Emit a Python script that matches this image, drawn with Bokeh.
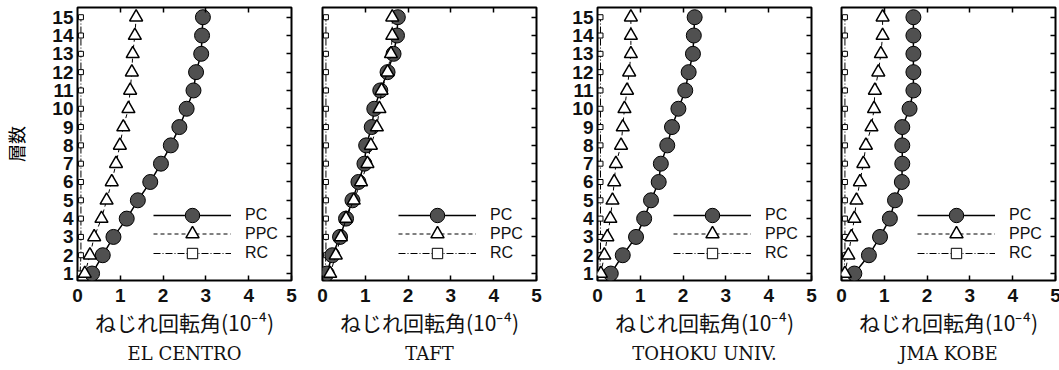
from bokeh.plotting import figure
from bokeh.layouts import row
from bokeh.models import (LinearAxis, Range1d, FixedTicker, Legend, LegendItem,
                          Title, ColumnDataSource)
from bokeh.embed import file_html
from bokeh.resources import INLINE

floors = list(range(1, 16))
x_ticks = [0, 1, 2, 3, 4, 5]
titles = ["EL CENTRO", "TAFT", "TOHOKU UNIV.", "JMA KOBE"]
x_label = "ねじれ回転角(10⁻⁴)"
y_label = "層数"
legend_labels = ["PC", "PPC", "RC"]

pc_elcentro = [0.34, 0.59, 0.84, 1.15, 1.41, 1.70, 1.95, 2.18, 2.38, 2.55, 2.71, 2.77, 2.89, 2.91, 2.93]
ppc_elcentro = [0.17, 0.29, 0.39, 0.56, 0.68, 0.80, 0.90, 0.99, 1.07, 1.19, 1.23, 1.27, 1.29, 1.34, 1.37]
rc_elcentro = [0.06, 0.08, 0.08, 0.08, 0.08, 0.08, 0.08, 0.08, 0.08, 0.08, 0.08, 0.08, 0.08, 0.08, 0.08]

pc_taft = [0.10, 0.23, 0.41, 0.55, 0.70, 0.84, 0.98, 1.02, 1.15, 1.21, 1.35, 1.52, 1.66, 1.74, 1.76]
ppc_taft = [0.18, 0.31, 0.43, 0.55, 0.73, 0.90, 1.05, 1.13, 1.27, 1.33, 1.38, 1.52, 1.60, 1.63, 1.63]
rc_taft = [0.06, 0.08, 0.08, 0.08, 0.08, 0.08, 0.08, 0.08, 0.08, 0.08, 0.08, 0.08, 0.08, 0.08, 0.08]

pc_tohoku = [0.31, 0.59, 0.90, 1.09, 1.25, 1.43, 1.48, 1.63, 1.74, 1.89, 2.05, 2.13, 2.23, 2.25, 2.27]
ppc_tohoku = [0.08, 0.16, 0.23, 0.30, 0.35, 0.39, 0.43, 0.55, 0.59, 0.63, 0.69, 0.74, 0.78, 0.78, 0.78]
rc_tohoku = [0.05, 0.07, 0.07, 0.07, 0.07, 0.07, 0.07, 0.07, 0.07, 0.07, 0.07, 0.07, 0.07, 0.07, 0.07]

pc_kobe = [0.30, 0.64, 0.90, 1.13, 1.25, 1.41, 1.42, 1.42, 1.42, 1.59, 1.68, 1.68, 1.68, 1.68, 1.68]
ppc_kobe = [0.08, 0.16, 0.23, 0.30, 0.35, 0.43, 0.51, 0.57, 0.70, 0.76, 0.78, 0.86, 0.92, 0.96, 0.96]
rc_kobe = [0.06, 0.08, 0.08, 0.08, 0.08, 0.08, 0.08, 0.08, 0.08, 0.08, 0.08, 0.08, 0.08, 0.08, 0.08]

series = [
    (pc_elcentro, ppc_elcentro, rc_elcentro),
    (pc_taft, ppc_taft, rc_taft),
    (pc_tohoku, ppc_tohoku, rc_tohoku),
    (pc_kobe, ppc_kobe, rc_kobe),
]

borders = [(73, 12), (19, 12), (49, 12), (18, 8)]
show_ylabels = [True, False, True, False]
legend_centers = [65, 46, 27]   # px above the frame bottom for each legend row
legend_glyph_h = [36, 33, 26]   # legend marker size is 0.4 x glyph height

TICK_FONT = "Liberation Sans"
JP_FONT = "Noto Sans CJK JP"
INK = "#111111"


def make_panel(i):
    pc, ppc, rc = series[i]
    left, right = borders[i]
    p = figure(frame_width=214, frame_height=273,
               x_range=Range1d(0, 5), y_range=Range1d(0.62, 15.53),
               output_backend="svg", toolbar_location=None,
               min_border_left=left, min_border_right=right,
               min_border_top=7, min_border_bottom=90,
               x_axis_location="below",
               y_axis_location="left" if show_ylabels[i] else None)
    p.grid.visible = False
    p.outline_line_color = "black"
    p.outline_line_width = 2
    p.background_fill_color = "white"
    p.border_fill_color = "white"

    # bottom axis
    xa = p.xaxis[0]
    xa.ticker = FixedTicker(ticks=x_ticks)
    xa.major_tick_in = 5
    xa.major_tick_out = 0
    xa.minor_tick_in = 0
    xa.minor_tick_out = 0
    xa.axis_line_color = None
    xa.major_tick_line_width = 1.5
    xa.major_label_text_font = TICK_FONT
    xa.major_label_text_font_size = "19px"
    xa.major_label_text_font_style = "bold"
    xa.major_label_text_color = INK
    xa.major_label_standoff = 8
    xa.axis_label = x_label
    xa.axis_label_text_font = JP_FONT
    xa.axis_label_text_font_size = "21px"
    xa.axis_label_text_font_style = "normal"
    xa.axis_label_text_color = INK
    xa.axis_label_standoff = 2

    if show_ylabels[i]:
        ya = p.yaxis[0]
        ya.ticker = FixedTicker(ticks=floors)
        ya.major_tick_in = 0
        ya.major_tick_out = 0
        ya.minor_tick_in = 0
        ya.minor_tick_out = 0
        ya.axis_line_color = None
        ya.major_label_text_font = TICK_FONT
        ya.major_label_text_font_size = "19px"
        ya.major_label_text_font_style = "bold"
        ya.major_label_text_color = INK
        ya.major_label_standoff = 4
        if i == 0:
            ya.axis_label = y_label
            ya.axis_label_text_font = JP_FONT
            ya.axis_label_text_font_size = "18px"
            ya.axis_label_text_font_style = "normal"
            ya.axis_label_text_color = "black"
            ya.axis_label_standoff = 20

    # right axis: ticks only
    ra = LinearAxis(ticker=FixedTicker(ticks=floors), major_tick_in=5, major_tick_out=0,
                    minor_tick_in=0, minor_tick_out=0, axis_line_color=None,
                    major_tick_line_width=1.5,
                    major_label_text_font_size="1px", major_label_text_alpha=0,
                    major_label_standoff=0)
    p.add_layout(ra, "right")
    # top axis: ticks only
    ta = LinearAxis(ticker=FixedTicker(ticks=x_ticks[1:-1]), major_tick_in=5, major_tick_out=0,
                    minor_tick_in=0, minor_tick_out=0, axis_line_color=None,
                    major_tick_line_width=1.5,
                    major_label_text_font_size="1px", major_label_text_alpha=0,
                    major_label_standoff=0)
    p.add_layout(ta, "above")

    src = ColumnDataSource(dict(y=floors, pc=pc, ppc=ppc, rc=rc))

    # RC
    rc_line = p.line("rc", "y", source=src, line_color="black", line_width=1, line_dash="7 2 1 2")
    rc_pts = p.scatter("rc", "y", source=src, marker="square", size=5, fill_color="white",
                       line_color="black", line_width=1)
    # PC
    pc_line = p.line("pc", "y", source=src, line_color="black", line_width=1.5)
    pc_pts = p.scatter("pc", "y", source=src, marker="circle", size=15, fill_color="#505050",
                       line_color="black", line_width=1)
    # PPC
    ppc_line = p.line("ppc", "y", source=src, line_color="black", line_width=1, line_dash="4 3")
    ppc_pts = p.scatter("ppc", "y", source=src, marker="triangle", size=13, fill_color="white",
                        line_color="black", line_width=1.5)

    rends = [[pc_line, pc_pts], [ppc_line, ppc_pts], [rc_line, rc_pts]]
    for k in range(3):
        gh = legend_glyph_h[k]
        legend = Legend(items=[LegendItem(label=legend_labels[k], renderers=rends[k])],
                        location=(76, legend_centers[k] - gh // 2),
                        border_line_color=None, background_fill_alpha=0,
                        padding=0, margin=0, spacing=0, glyph_width=78,
                        glyph_height=gh, label_height=15,
                        label_standoff=14, label_text_font=TICK_FONT,
                        label_text_font_size="16px", label_text_color=INK)
        p.add_layout(legend, "center")

    t = Title(text=titles[i], align="center", text_font="DejaVu Serif",
              text_font_size="18px", text_font_style="normal", text_color=INK,
              standoff=2)
    p.add_layout(t, "below")
    return p


panels = [make_panel(i) for i in range(4)]
layout = row(*panels, spacing=0)
open("out.html", "w").write(file_html(layout, INLINE))
